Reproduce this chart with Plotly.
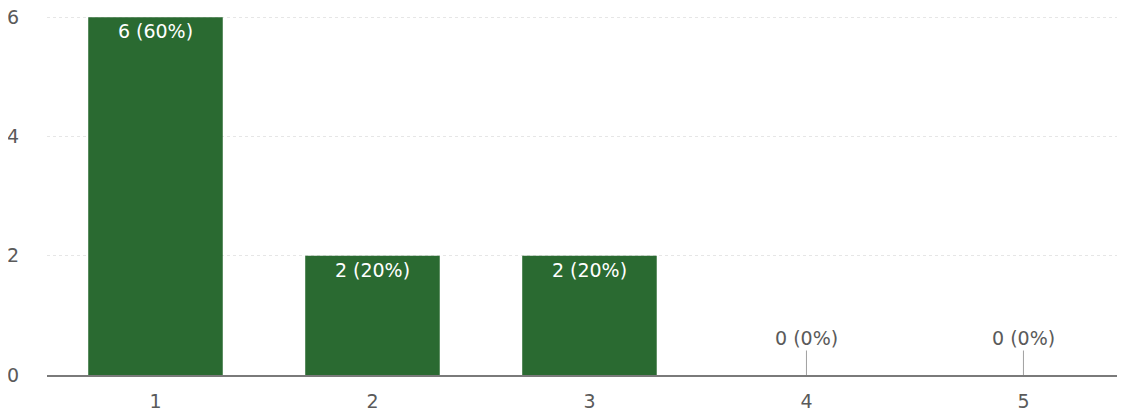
import plotly.graph_objects as go

categories = ["1", "2", "3", "4", "5"]
counts = [6, 2, 2, 0, 0]
total = sum(counts)
labels = [f"{c} ({round(100 * c / total)}%)" for c in counts]

bar_color = "#2a6a31"
text_gray = "#5a5a5a"
FONT = "DejaVu Sans, Verdana, sans-serif"

fig = go.Figure()
fig.add_trace(go.Bar(
    x=list(range(len(categories))),
    y=counts,
    marker=dict(color=bar_color, line=dict(width=0)),
    text=[l if c > 0 else "" for l, c in zip(labels, counts)],
    textposition="inside",
    insidetextanchor="end",
    textangle=0,
    textfont=dict(color="white", size=19, family=FONT),
    cliponaxis=False,
))

annotations = []
for i, (c, l) in enumerate(zip(counts, labels)):
    if c == 0:
        annotations.append(dict(
            x=i, y=c, xref="x", yref="y",
            text=l, showarrow=True, arrowhead=0, arrowwidth=1,
            arrowcolor="#a0a0a0", ax=0, ay=-37,
            font=dict(size=19, color=text_gray, family=FONT),
        ))

fig.update_layout(
    width=1117, height=407,
    margin=dict(l=39, r=0, t=8, b=40),
    plot_bgcolor="white", paper_bgcolor="white",
    bargap=0.38,
    showlegend=False,
    annotations=annotations,
    font=dict(family=FONT, color=text_gray, size=19),
    xaxis=dict(
        tickmode="array",
        tickvals=list(range(len(categories))),
        ticktext=categories,
        range=[-0.5, 4.468],
        automargin=False,
        showgrid=False, zeroline=False,
        showline=True, linecolor="#7a7a7a", linewidth=1.5,
        ticks="", ticklabelstandoff=8,
        ticklabeloverflow="allow",
        tickfont=dict(size=19, color=text_gray, family=FONT),
    ),
    yaxis=dict(
        range=[0, 6.02],
        tickvals=[0, 2, 4, 6],
        automargin=False,
        showgrid=True, gridcolor="#e6e6e6", griddash="dot", gridwidth=1,
        zeroline=False, showline=False,
        ticks="", ticklabelstandoff=27,
        ticklabeloverflow="allow",
        tickfont=dict(size=19, color=text_gray, family=FONT),
    ),
)

fig.write_html("out.html")
